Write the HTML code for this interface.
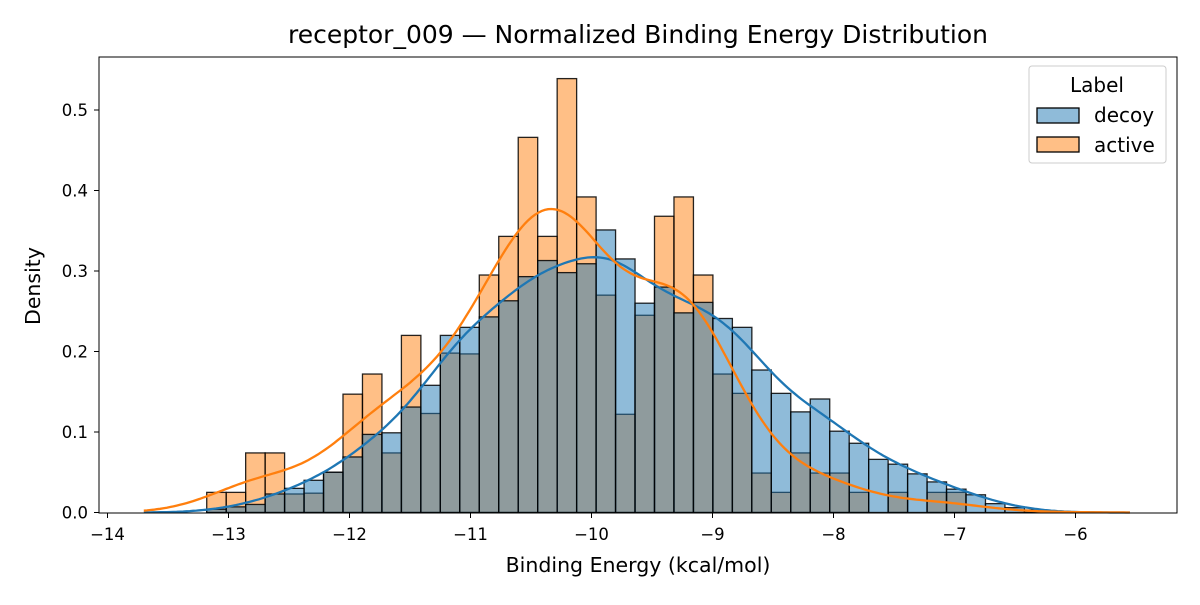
<!DOCTYPE html>
<html><head><meta charset="utf-8"><style>
body{margin:0;background:#fff}
svg{font-family:"DejaVu Sans","Liberation Sans",sans-serif}
</style></head><body>
<svg id="chart" width="1200" height="600" viewBox="0 0 1200 600" xmlns="http://www.w3.org/2000/svg">
<rect width="1200" height="600" fill="#fff"/>
<text x="638" y="43" font-size="25" text-anchor="middle">receptor_009 — Normalized Binding Energy Distribution</text>
<g id="bars"></g>
<g id="kde"></g>
<g id="axes"></g>
<rect x="99" y="57" width="1078" height="456" fill="none" stroke="#000" stroke-width="1"/>
<text x="638" y="572" font-size="20.5" text-anchor="middle">Binding Energy (kcal/mol)</text>
<text transform="translate(40,286) rotate(-90)" font-size="20.5" text-anchor="middle">Density</text>
<g>
<rect x="1029" y="66" width="137" height="97" rx="3" fill="#fff" fill-opacity="0.8" stroke="#ccc"/>
<text x="1097" y="92" font-size="20" text-anchor="middle">Label</text>
<g>
<rect x="1037" y="108" width="42" height="15" fill="#1f77b4" fill-opacity="0.5" stroke="#000" stroke-width="1.3"/>
<text x="1094" y="122" font-size="20">decoy</text></g>
<g>
<rect x="1037" y="137" width="42" height="15" fill="#ff7f0e" fill-opacity="0.5" stroke="#000" stroke-width="1.3"/>
<text x="1094" y="152" font-size="20">active</text></g>
</g>
</svg>
<script>
const binStart = -13.18;
const binWidth = 0.1609;
const decoyDensity = [0.004,0.007,0.01,0.023,0.03,0.04,0.05,0.069,0.097,0.099,0.131,0.158,0.22,0.23,0.243,0.263,0.293,0.313,0.298,0.309,0.351,0.315,0.26,0.28,0.248,0.261,0.241,0.23,0.177,0.148,0.125,0.141,0.101,0.086,0.066,0.06,0.048,0.038,0.029,0.022,0.011,0.006,0.003];
const activeDensity = [0.025,0.025,0.074,0.074,0.023,0.024,0.05,0.147,0.172,0.074,0.22,0.123,0.198,0.197,0.295,0.343,0.466,0.343,0.539,0.392,0.27,0.122,0.245,0.368,0.392,0.295,0.172,0.148,0.049,0.025,0.074,0.049,0.049,0.025,0,0.025,0,0.025,0.025,0,0,0,0.003];
const xTicks = [-14,-13,-12,-11,-10,-9,-8,-7,-6];
const xTickLabels = ["−14","−13","−12","−11","−10","−9","−8","−7","−6"];
const yTicks = [0,0.1,0.2,0.3,0.4,0.5];
const yTickLabels = ["0.0","0.1","0.2","0.3","0.4","0.5"];
const kdeRange = [-13.7,-5.55];

const NS="http://www.w3.org/2000/svg";
const X=v=>107.5+(v+14)*121;
const Y=v=>512.5-v*805;
function mk(tag,attrs,parent){const e=document.createElementNS(NS,tag);for(const k in attrs)e.setAttribute(k,attrs[k]);parent.appendChild(e);return e;}
const bars=document.getElementById('bars');
function drawBars(arr,color,name){
  arr.forEach((d,i)=>{
    if(d<=0)return;
    const x0=X(binStart+i*binWidth),x1=X(binStart+(i+1)*binWidth);
    const r=mk('rect',{x:x0,y:Y(d),width:x1-x0,height:Y(0)-Y(d),fill:color,'fill-opacity':0.5,stroke:'#000','stroke-opacity':0.85,'stroke-width':1.3},bars);
    
    
  });
}
drawBars(activeDensity,'#ff7f0e','active');
drawBars(decoyDensity,'#1f77b4','decoy');

const kde=document.getElementById('kde');
function drawKde(arr,color,bw,name){
  let tot=0;arr.forEach(d=>tot+=d*binWidth);
  let pts=[];
  for(let k=0;k<=300;k++){
    const x=kdeRange[0]+(kdeRange[1]-kdeRange[0])*k/300;
    let s=0;
    arr.forEach((d,i)=>{const c=binStart+(i+0.5)*binWidth;const z=(x-c)/bw;s+=d*binWidth*Math.exp(-0.5*z*z)/(bw*Math.sqrt(2*Math.PI));});
    pts.push(X(x).toFixed(1)+','+Y(s/tot).toFixed(1));
  }
  const p=mk('polyline',{points:pts.join(' '),fill:'none',stroke:color,'stroke-width':2.3},kde);
  
  
}
drawKde(decoyDensity,'#1f77b4',0.26,'decoy');
drawKde(activeDensity,'#ff7f0e',0.36,'active');

const axes=document.getElementById('axes');
xTicks.forEach((t,i)=>{
  mk('line',{x1:X(t),x2:X(t),y1:513,y2:518,stroke:'#000'},axes);
  const tx=mk('text',{x:X(t),y:540,'font-size':16.5,'text-anchor':'middle'},axes);
  tx.textContent=xTickLabels[i];
  
  
});
yTicks.forEach((t,i)=>{
  mk('line',{x1:94,x2:99,y1:Y(t),y2:Y(t),stroke:'#000'},axes);
  const tx=mk('text',{x:88,y:Y(t)+6,'font-size':16.5,'text-anchor':'end'},axes);
  tx.textContent=yTickLabels[i];
  
  
});
</script>
</body></html>
